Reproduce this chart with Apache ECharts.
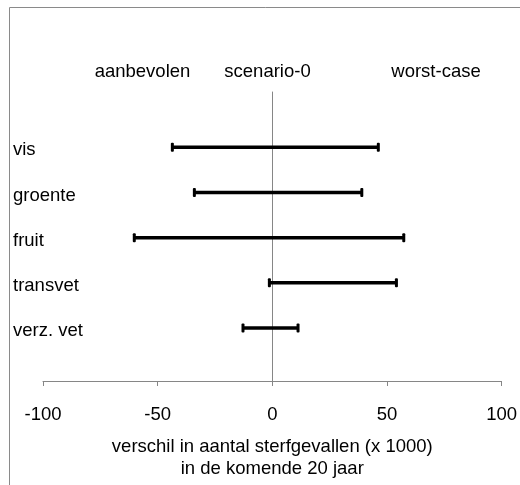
<!DOCTYPE html>
<html>
<head>
<meta charset="utf-8">
<script src="https://cdn.jsdelivr.net/npm/echarts@6/dist/echarts.min.js"></script>
<style>html,body{margin:0;padding:0;background:#fff;}#c{width:520px;height:485px;}</style>
</head>
<body>
<div id="c"></div>
<script>
const categories = ['vis', 'groente', 'fruit', 'transvet', 'verz. vet'];
const lowValues = [-43.6, -34.0, -60.2, -1.3, -12.8];
const highValues = [46.2, 39.0, 57.3, 54.1, 11.2];
const topLabels = ['aanbevolen', 'scenario-0', 'worst-case'];
const xMin = -100, xMax = 100, xInterval = 50;
const axisTitle = 'verschil in aantal sterfgevallen (x 1000)\nin de komende 20 jaar';

const FONT = 'Liberation Sans, Arial, sans-serif';
const FS = 18.5;

const data = categories.map((c, i) => [i, lowValues[i], highValues[i]]);

const chart = echarts.init(document.getElementById('c'), null, {renderer: 'canvas'});
chart.setOption({
  backgroundColor: '#fff',
  animation: false,
  graphic: [
    {type: 'rect', shape: {x: 9.5, y: 7.5, width: 700, height: 700}, style: {fill: 'none', stroke: '#8a8a8a', lineWidth: 1}, silent: true, z: -10},
    {type: 'text', x: 142.5, y: 72, style: {text: topLabels[0], font: FS + 'px ' + FONT, fill: '#000', align: 'center', verticalAlign: 'middle'}},
    {type: 'text', x: 267.5, y: 72, style: {text: topLabels[1], font: FS + 'px ' + FONT, fill: '#000', align: 'center', verticalAlign: 'middle'}},
    {type: 'text', x: 436, y: 72, style: {text: topLabels[2], font: FS + 'px ' + FONT, fill: '#000', align: 'center', verticalAlign: 'middle'}}
  ],
  grid: [
    {left: 43, right: 18.3, top: 92, bottom: 102},
    {left: 43, right: 18.3, top: 124.7, bottom: 134.4}
  ],
  xAxis: [
    {
      gridIndex: 0, type: 'value', min: xMin, max: xMax, interval: xInterval,
      axisLine: {show: true, onZero: false, lineStyle: {color: '#868686', width: 1}},
      axisTick: {show: true, length: 5, inside: false, lineStyle: {color: '#868686'}},
      splitLine: {show: false},
      axisLabel: {color: '#000', fontFamily: FONT, fontSize: FS, margin: 24},
      name: axisTitle, nameLocation: 'middle', nameGap: 55,
      nameTextStyle: {color: '#000', fontFamily: FONT, fontSize: FS, lineHeight: 22}
    },
    {
      gridIndex: 1, type: 'value', min: xMin, max: xMax, interval: xInterval, show: false
    }
  ],
  yAxis: [
    {
      gridIndex: 0, type: 'value', min: 0, max: 1,
      axisLine: {show: true, onZero: true, lineStyle: {color: '#868686', width: 1}},
      axisTick: {show: false}, axisLabel: {show: false}, splitLine: {show: false}
    },
    {
      gridIndex: 1, type: 'category', data: categories, inverse: true, boundaryGap: true,
      axisLine: {show: false}, axisTick: {show: false}, splitLine: {show: false},
      axisLabel: {
        color: '#000', fontFamily: FONT, fontSize: FS, align: 'left', margin: 30,
        formatter: function (v) { return '{c|' + v + '}'; },
        rich: {c: {color: '#000', fontFamily: FONT, fontSize: FS, padding: [6, 0, 0, 0]}}
      }
    }
  ],
  series: [{
    type: 'custom',
    xAxisIndex: 1, yAxisIndex: 1,
    data: data,
    encode: {x: [1, 2], y: 0},
    renderItem: function (params, api) {
      const cat = api.value(0);
      const p1 = api.coord([api.value(1), cat]);
      const p2 = api.coord([api.value(2), cat]);
      const capH = 9, capW = 3;
      return {
        type: 'group',
        children: [
          {type: 'line', shape: {x1: p1[0], y1: p1[1], x2: p2[0], y2: p2[1]}, style: {stroke: '#000', lineWidth: 3.5}},
          {type: 'rect', shape: {x: p1[0] - capW / 2, y: p1[1] - capH / 2, width: capW, height: capH, r: 1}, style: {fill: '#000'}},
          {type: 'rect', shape: {x: p2[0] - capW / 2, y: p2[1] - capH / 2, width: capW, height: capH, r: 1}, style: {fill: '#000'}}
        ]
      };
    }
  }]
});
</script>
</body>
</html>
